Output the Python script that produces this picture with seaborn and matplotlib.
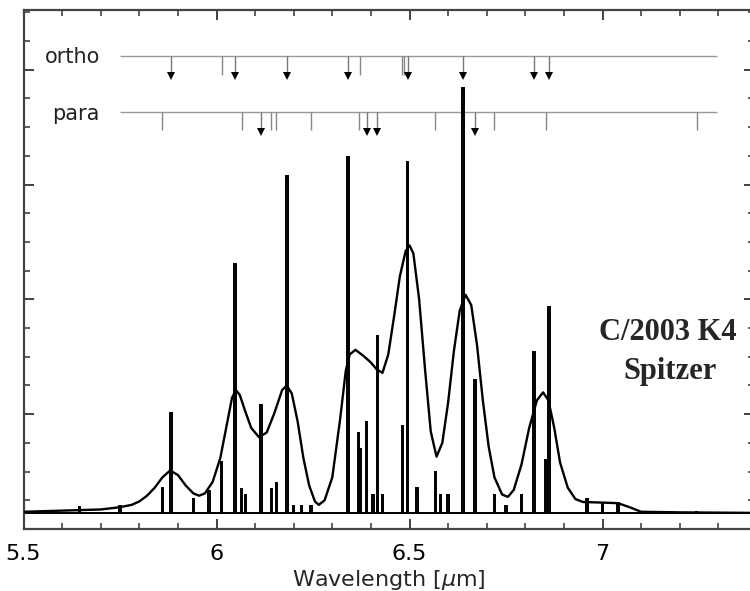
import numpy as np
import matplotlib
matplotlib.use("Agg")
import matplotlib.pyplot as plt
from matplotlib.ticker import MultipleLocator
import seaborn as sns

# low resolution model (smooth curve)
smooth_wl = [5.50, 5.60, 5.65, 5.70, 5.75, 5.78, 5.80, 5.82, 5.84, 5.86, 5.88, 5.90,
             5.92, 5.94, 5.955, 5.97, 5.99, 6.01, 6.025, 6.04, 6.05, 6.06, 6.075,
             6.09, 6.11, 6.13, 6.15, 6.17, 6.182, 6.195, 6.21, 6.225, 6.24, 6.255,
             6.265, 6.28, 6.30, 6.32, 6.335, 6.345, 6.36, 6.38, 6.40, 6.415, 6.43,
             6.445, 6.46, 6.475, 6.49, 6.50, 6.51, 6.525, 6.54, 6.555, 6.57, 6.585,
             6.60, 6.615, 6.63, 6.645, 6.66, 6.675, 6.69, 6.705, 6.72, 6.74, 6.755,
             6.77, 6.79, 6.81, 6.83, 6.846, 6.86, 6.875, 6.89, 6.91, 6.93, 6.95,
             7.00, 7.04, 7.07, 7.10, 7.20, 7.40]
smooth_flux = [0.15, 0.16, 0.165, 0.17, 0.19, 0.21, 0.24, 0.29, 0.36, 0.45, 0.51, 0.47,
               0.38, 0.31, 0.29, 0.31, 0.41, 0.62, 0.88, 1.14, 1.21, 1.17, 1.02,
               0.88, 0.80, 0.84, 1.01, 1.21, 1.25, 1.18, 0.94, 0.62, 0.38, 0.24,
               0.21, 0.25, 0.45, 0.95, 1.38, 1.52, 1.56, 1.51, 1.45, 1.39, 1.36,
               1.52, 1.85, 2.20, 2.42, 2.47, 2.40, 2.00, 1.40, 0.85, 0.63, 0.75,
               1.10, 1.55, 1.90, 2.04, 1.95, 1.60, 1.12, 0.72, 0.45, 0.30, 0.28,
               0.34, 0.56, 0.88, 1.12, 1.19, 1.12, 0.88, 0.58, 0.36, 0.26, 0.235,
               0.23, 0.225, 0.19, 0.15, 0.145, 0.14]

# high resolution lines: position and peak level
line_wl = [5.645, 5.75, 5.86, 5.882, 5.94, 5.98, 6.013, 6.048, 6.065, 6.075, 6.115,
           6.142, 6.155, 6.183, 6.20, 6.22, 6.245, 6.341, 6.368, 6.372, 6.389, 6.405,
           6.417, 6.43, 6.482, 6.495, 6.52, 6.567, 6.58, 6.60, 6.639, 6.67, 6.72,
           6.75, 6.79, 6.823, 6.854, 6.862, 6.96, 7.00, 7.04, 7.244]
line_peak = [0.19, 0.20, 0.36, 1.01, 0.26, 0.33, 0.58, 2.31, 0.35, 0.30, 1.08,
             0.35, 0.40, 3.07, 0.20, 0.20, 0.20, 3.24, 0.84, 0.70, 0.93, 0.30,
             1.68, 0.30, 0.90, 3.20, 0.36, 0.50, 0.30, 0.30, 3.84, 1.30, 0.30,
             0.20, 0.30, 1.54, 0.60, 1.93, 0.26, 0.22, 0.23, 0.15]
BASE = 0.14

# ortho / para line identifications
ortho_arrow = [5.882, 6.048, 6.183, 6.341, 6.495, 6.639, 6.823, 6.862]
ortho_plain = [6.013, 6.372, 6.481, 6.487]
para_arrow = [6.115, 6.389, 6.417, 6.670]
para_plain = [5.859, 6.065, 6.142, 6.155, 6.245, 6.368, 6.567, 6.720, 6.854, 7.244]

xtick_vals = [5.5, 6.0, 6.5, 7.0]
xtick_labels = ["5.5", "6", "6.5", "7"]

ORTHO_Y, PARA_Y = 4.123, 3.632
ID_START, ID_END = 5.75, 7.297

sns.set_theme(style="ticks")
plt.rcParams["font.family"] = ["DejaVu Sans"]

fig = plt.figure(figsize=(7.5, 5.91), dpi=100)
# right frame edge sits just outside the picture
ax = fig.add_axes([23.5 / 750, 62 / 591, 730.5 / 750, 519 / 591])

# high resolution spectrum
ax.axhline(BASE, color="black", lw=1.4, zorder=2)
ax.bar(line_wl, np.array(line_peak) - BASE, width=0.004, bottom=BASE,
       fill=False, edgecolor="black", linewidth=1.4, zorder=3)

# smoothed spectrum
sns.lineplot(x=smooth_wl, y=smooth_flux, ax=ax, color="black", lw=1.7,
             sort=False, estimator=None, zorder=4)

# identification ladders
ax.hlines([ORTHO_Y, PARA_Y], ID_START, ID_END, color="#999999", lw=1.0)
ax.vlines(ortho_plain, 3.955, ORTHO_Y, color="#888888", lw=1.0)
ax.vlines(ortho_arrow, 3.97, ORTHO_Y, color="#777777", lw=1.0)
ax.plot(ortho_arrow, [3.945] * len(ortho_arrow), "v", color="black", ms=5.5, mew=0)
ax.vlines(para_plain, 3.476, PARA_Y, color="#888888", lw=1.0)
ax.vlines(para_arrow, 3.48, PARA_Y, color="#777777", lw=1.0)
ax.plot(para_arrow, [3.455] * len(para_arrow), "v", color="black", ms=5.5, mew=0)

ax.text(5.698, 4.06, "ortho", ha="right", va="baseline", fontsize=15, color="#222222")
ax.text(5.698, 3.563, "para", ha="right", va="baseline", fontsize=15, color="#222222")

ax.set_xlim(5.5, 5.5 + 730.5 / 386)
ax.set_ylim(0, 4.52)
ax.set_xticks(xtick_vals)
ax.set_xticklabels(xtick_labels)
ax.xaxis.set_minor_locator(MultipleLocator(0.1))
ax.yaxis.set_major_locator(MultipleLocator(1))
ax.yaxis.set_minor_locator(MultipleLocator(0.25))
ax.tick_params(which="both", direction="in", top=True, right=True,
               labelleft=False, colors="#333333", labelcolor="black",
               labelsize=16, pad=11)
ax.tick_params(which="major", length=7, width=1.3)
ax.tick_params(which="minor", length=4, width=1.1)
for sp in ax.spines.values():
    sp.set_color("#444444")
    sp.set_linewidth(1.6)
ax.set_xlabel(r"Wavelength [$\mu$m]", fontsize=16, labelpad=3)
ax.set_ylabel("")

fig.text(668 / 750, 1 - 333 / 591, "C/2003 K4", ha="center", va="center",
         fontsize=22, fontweight="bold", family="Liberation Serif")
fig.text(670 / 750, 1 - 372 / 591, "Spitzer", ha="center", va="center",
         fontsize=22, fontweight="bold", family="Liberation Serif")

fig.savefig("out.png", dpi=100)
